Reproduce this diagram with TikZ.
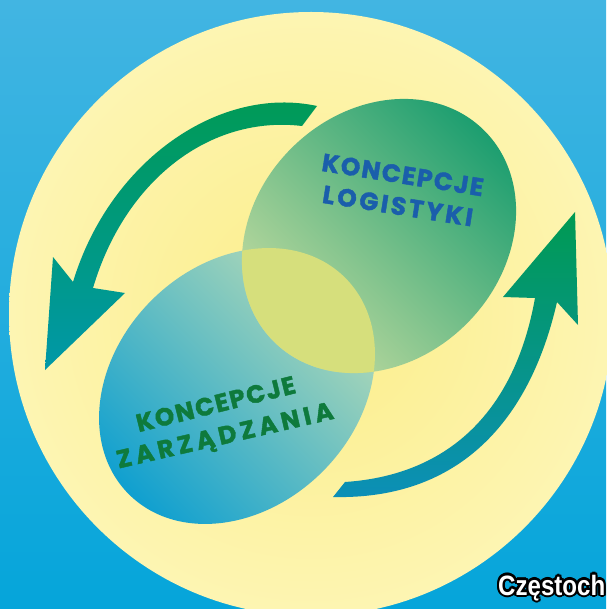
\documentclass[tikz,border=0pt]{standalone}
\usepackage{fontspec}
\usetikzlibrary{calc}
\newfontfamily\labfont[FakeBold=1.6]{Poppins}
\newfontfamily\cityfont[FakeStretch=0.86]{Liberation Sans}
\definecolor{bgtop}{HTML}{42B5E2}
\definecolor{bgbot}{HTML}{05A5DA}
\definecolor{sunin}{HTML}{FCF096}
\definecolor{sunout}{HTML}{FFFCDC}
\definecolor{logdark}{HTML}{1A9D6F}
\definecolor{loglight}{HTML}{C9DEA2}
\definecolor{zarblue}{HTML}{0E9FD0}
\definecolor{zarlight}{HTML}{BCDDB5}
\definecolor{lens}{HTML}{D6DF7C}
\definecolor{arrgreen}{HTML}{009A52}
\definecolor{arrteal}{HTML}{0098A8}
\definecolor{arrblue}{HTML}{0C8FB8}
\definecolor{txtblue}{HTML}{1A5EAB}
\definecolor{txtgreen}{HTML}{0E7A3C}
\pgfdeclareradialshading{sun}{\pgfpoint{0bp}{0bp}}{color(0bp)=(sunin); color(8bp)=(sunin); color(50bp)=(sunout)}
\tikzset{
  lab/.style={font=\labfont\bfseries\fontsize{25}{25}\selectfont, inner sep=0pt, text height=0.72em, text depth=0pt},
  citytext/.style={font=\cityfont\bfseries\fontsize{28}{28}\selectfont, inner sep=0pt, anchor=base west},
  logell/.style={rotate around={45:(379,236)}},
  zarell/.style={rotate around={45:(237,386)}}
}
\begin{document}
\begin{tikzpicture}[x=1pt,y=-1pt]
\useasboundingbox (0,0) rectangle (606,609);
% background
\shade[top color=bgtop,bottom color=bgbot] (0,0) rectangle (606,609);
% sun disc
\shade[shading=sun] (311,314) circle [radius=302];
% ellipses
\shade[zarell, top color=zarlight, bottom color=zarblue, shading angle=-45] (237,386) ellipse [x radius=153, y radius=121];
\shade[logell, top color=logdark, bottom color=loglight, shading angle=-45] (379,236) ellipse [x radius=149, y radius=124];
\begin{scope}
  \clip[logell] (379,236) ellipse [x radius=149, y radius=124];
  \fill[zarell, lens] (237,386) ellipse [x radius=153, y radius=121];
\end{scope}
% arrows
\shade[top color=arrgreen, bottom color=arrteal]
  (317,106) .. controls (220,85) and (110,160) .. (73,282) -- (53,257) -- (45,370) -- (125,293) -- (93,288)
  .. controls (125,180) and (210,115) .. (302,126) -- cycle;
\shade[top color=arrgreen, bottom color=arrblue]
  (333,497) .. controls (460,500) and (530,420) .. (557,302) -- (578,325) -- (575,212) -- (503,297) -- (535,298)
  .. controls (515,410) and (450,475) .. (345,482) -- cycle;
% labels
\node[lab, text=txtblue, rotate=-9] (log1) at (402,180) {\addfontfeature{LetterSpace=6}KONCEPCJE};
\node[lab, text=txtblue, rotate=-9] (log2) at (397,211) {\addfontfeature{LetterSpace=11}LOGISTYKI};
\node[lab, text=txtgreen, rotate=14] (zar1) at (217,409) {\addfontfeature{LetterSpace=6}KONCEPCJE};
\node[lab, text=txtgreen, rotate=13] (zar2) at (226,440) {\addfontfeature{LetterSpace=17}ZARZĄDZANIA};
% city name with dark outline
\begin{scope}
  \clip (0,0) rectangle (606,609);
  \foreach \ang [count=\i] in {0,30,...,330}
    \node[citytext, text=black] (cityo\i) at ($(498,595)+(\ang:2.2)$) {Częstoch};
  \node[citytext, text=white] (city) at (498,595) {Częstoch};
\end{scope}
\end{tikzpicture}
\end{document}
